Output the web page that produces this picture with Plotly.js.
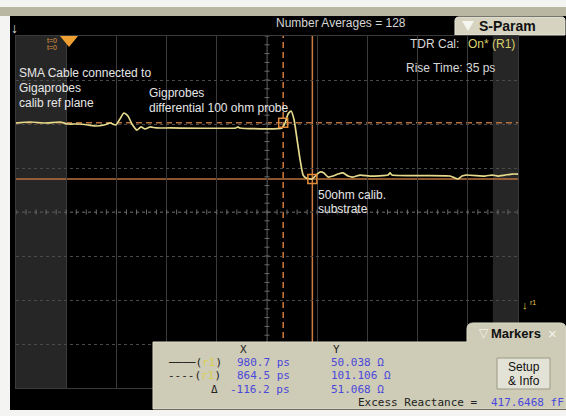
<!DOCTYPE html>
<html><head><meta charset="utf-8">
<script src="https://cdn.plot.ly/plotly-3.0.1.min.js"></script>
<style>html,body{margin:0;padding:0;background:#f4f4f2;overflow:hidden}#chart{width:566px;height:416px}</style>
</head><body><div id="chart"></div>
<script>
// ---- data (TDR trace: time in ps, impedance in ohm) ----
const timePs = [-200,-144,-84,-25,7,47,87,119,151,175,198,214,230,246,262,282,298,314,334,358,414,676,684,692,860,872,884,896,908,920,932,944,956,980,996,1011,1027,1043,1063,1083,1103,1123,1143,1171,1210,1282,1290,1298,1529,1549,1561,1577,1593,1669,1697,1720,1748,1776,1800];
const impedanceOhm = [100.9,101.8,100.9,101.8,100.0,100.0,99.1,98.2,99.1,100.9,99.1,104.5,110.0,107.3,100.0,94.5,97.3,95.5,97.3,96.4,96.4,96.4,97.3,96.4,96.4,100.9,109.1,111.8,103.6,85.5,67.3,53.6,50.9,50.0,53.6,56.4,55.5,51.8,52.7,54.5,55.5,52.7,51.8,53.6,52.7,53.6,55.5,53.6,52.7,50.9,50.0,52.7,53.6,52.7,53.6,52.7,53.6,54.5,54.5];
const markerTimePs = [980.7, 864.5];
const markerImpOhm = [50.038, 101.106];
const markerXLabels = ['980.7 ps', '864.5 ps', '-116.2 ps'];
const markerYLabels = ['50.038 Ω', '101.106 Ω', '51.068 Ω'];
const excessReactance = '417.6468 fF';
const windowPs = [0, 1700];
const xRange = [-200, 1800], xDiv = 200;
const yRange = [-140, 180], yDiv = 40;
const xCenter = 800, yCenter = 20;

// ---- layout helpers (pixel -> paper) ----
const L = 16, T = 36, W = 502, H = 352;
const px = x => (x - L) / W;
const py = y => (T + H - y) / H;
const P = (x, y) => px(x).toFixed(5) + ',' + py(y).toFixed(5);

const SANS = 'Liberation Sans, Arial, sans-serif';
const MONO = 'DejaVu Sans Mono, monospace';
const BLUE = '#4a48dc';
const ORANGE = '#cf7a3e';

const shapes = [];
function rectPx(x0, y0, x1, y1, fill, layer, line) {
  shapes.push({type:'rect', xref:'paper', yref:'paper', x0:px(x0), x1:px(x1), y0:py(y1), y1:py(y0),
    fillcolor:fill, line: line || {width:0}, layer: layer || 'below'});
}
// frame
rectPx(0, 7, 566, 16, '#b9b7a1');
rectPx(10, 16, 566, 410, '#000000');
// shaded bands outside the data window
shapes.push({type:'rect', xref:'x', yref:'paper', x0:xRange[0], x1:windowPs[0], y0:0, y1:1, fillcolor:'#262626', line:{width:0}, layer:'below'});
shapes.push({type:'rect', xref:'x', yref:'paper', x0:windowPs[1], x1:xRange[1], y0:0, y1:1, fillcolor:'#262626', line:{width:0}, layer:'below'});
// S-Param tab
shapes.push({type:'path', xref:'paper', yref:'paper', layer:'below', fillcolor:'#d6d4c1', line:{color:'#e8e7da', width:1},
  path:'M'+P(455,35)+' L'+P(455,21)+' Q'+P(455,17)+' '+P(459,17)+' L'+P(562,17)+' Q'+P(565,17)+' '+P(565,21)+' L'+P(565,35)+' Z'});
shapes.push({type:'path', xref:'paper', yref:'paper', layer:'below', fillcolor:'#f6f6f0', line:{width:0},
  path:'M'+P(462,21)+' L'+P(474,21)+' L'+P(468,31)+' Z'});
// t=0 triangle
shapes.push({type:'path', xref:'paper', yref:'paper', layer:'above', fillcolor:'#f0a030', line:{width:0},
  path:'M'+P(60,36)+' L'+P(78,36)+' L'+P(69,47)+' Z'});
// marker lines
shapes.push({type:'line', xref:'x', yref:'paper', x0:markerTimePs[0], x1:markerTimePs[0], y0:0, y1:1, line:{color:ORANGE, width:1.5}, layer:'between'});
shapes.push({type:'line', xref:'x', yref:'paper', x0:markerTimePs[1], x1:markerTimePs[1], y0:0, y1:1, line:{color:ORANGE, width:1.5, dash:'6px,4px'}, layer:'between'});
shapes.push({type:'line', xref:'paper', yref:'y', x0:0, x1:1, y0:markerImpOhm[0], y1:markerImpOhm[0], line:{color:'#b8703c', width:1.5}, layer:'between'});
shapes.push({type:'line', xref:'paper', yref:'y', x0:0, x1:1, y0:markerImpOhm[1], y1:markerImpOhm[1], line:{color:'#b8703c', width:1.5, dash:'6px,4px'}, layer:'between'});
// center axis minor ticks
for (let v = xRange[0]; v <= xRange[1]; v += xDiv / 5) {
  shapes.push({type:'line', xref:'x', yref:'y', xsizemode:'scaled', ysizemode:'pixel', yanchor:yCenter, x0:v, x1:v, y0:-2.5, y1:2.5, line:{color:'#6a6a6a', width:1}, layer:'between'});
}
for (let v = yRange[0]; v <= yRange[1]; v += yDiv / 5) {
  shapes.push({type:'line', xref:'x', yref:'y', xsizemode:'pixel', xanchor:xCenter, x0:-2.5, x1:2.5, y0:v, y1:v, line:{color:'#6a6a6a', width:1}, layer:'between'});
}
shapes.push({type:'line', xref:'paper', yref:'y', x0:0, x1:1, y0:yCenter, y1:yCenter, line:{color:'#4a4a4a', width:1, dash:'dot'}, layer:'between'});
shapes.push({type:'line', xref:'x', yref:'paper', x0:xCenter, x1:xCenter, y0:0, y1:1, line:{color:'#4a4a4a', width:1}, layer:'between'});
// Markers panel
shapes.push({type:'path', xref:'paper', yref:'paper', layer:'above', fillcolor:'#cecbb6', line:{color:'#dedcca', width:1},
  path:'M'+P(153,409)+' L'+P(153,342)+' L'+P(467,342)+' L'+P(467,329)+' Q'+P(467,323)+' '+P(473,323)+' L'+P(560,323)+' Q'+P(566,323)+' '+P(566,329)+' L'+P(566,409)+' Z'});
rectPx(497, 358, 550, 389, '#e3e2d6', 'above', {color:'#9d9b86', width:1});

const annotations = [];
function txt(x, y, text, size, color, opts) {
  annotations.push(Object.assign({xref:'paper', yref:'paper', x:px(x), y:py(y), text:text, showarrow:false,
    xanchor:'left', yanchor:'middle', borderpad:0, font:{family:SANS, size:size, color:color}}, opts || {}));
}
// header
txt(10, 28, '↓', 14, '#e0e0e0');
txt(341, 23, 'Number Averages = 128', 12, '#d6d6d6', {xanchor:'center'});
txt(478, 26, '<b>S-Param</b>', 14, '#111111');
txt(46, 40, 't=0', 7, '#e09a40');
txt(46, 47, 't=0', 7, '#e09a40');
// right info
txt(460, 44, 'TDR Cal:', 12, '#d8d8d8', {xanchor:'right'});
txt(467, 44, 'On* (R1)', 12, '#d8d06a');
txt(464, 68, 'Rise Time:', 12, '#d8d8d8', {xanchor:'right'});
txt(465, 68, '35 ps', 12, '#d8d8d8');
// in-plot notes
txt(18, 73, 'SMA Cable connected to', 12, '#e6e6e6');
txt(18, 88, 'Gigaprobes', 12, '#e6e6e6');
txt(18, 103, 'calib ref plane', 12, '#e6e6e6');
txt(148, 93, 'Gigprobes', 12, '#e6e6e6');
txt(148, 108, 'differential 100 ohm probe', 12, '#e6e6e6');
txt(317, 195, '50ohm calib.', 12, '#e6e6e6');
txt(317, 209, 'substrate', 12, '#e6e6e6');
txt(521, 305, '↓', 11, '#e8d040');
txt(529, 302, 'r1', 7, '#e8d040');
// Markers panel text
txt(478, 333, '▽', 12, '#f4f4ee');
txt(490, 333, '<b>Markers</b>', 13, '#111111');
txt(547, 333, '×', 15, '#f4f4ee');
txt(239, 349, 'X', 11, '#222222', {font:{family:MONO, size:11, color:'#222'}});
txt(332, 349, 'Y', 11, '#222222', {font:{family:MONO, size:11, color:'#222'}});
const rowY = [362, 375, 389];
const rowKey = ['────(<span style="color:#d8d050">r1</span>)', '----(<span style="color:#d8d050">r1</span>)', 'Δ'];
const rowKeyX = [167, 167, 210];
for (let i = 0; i < 3; i++) {
  txt(rowKeyX[i], rowY[i], rowKey[i], 11, '#222', {font:{family:MONO, size:11, color:'#222'}});
  txt(291, rowY[i], markerXLabels[i], 11, BLUE, {xanchor:'right', font:{family:MONO, size:11, color:BLUE}});
  txt(330, rowY[i], markerYLabels[i], 11, BLUE, {font:{family:MONO, size:11, color:BLUE}});
}
txt(357, 402, 'Excess Reactance =', 11, '#222', {font:{family:MONO, size:11, color:'#222'}});
txt(490, 402, excessReactance, 11, BLUE, {font:{family:MONO, size:11, color:BLUE}});
txt(523.5, 367, 'Setup', 12, '#111', {xanchor:'center'});
txt(523.5, 381, '&amp; Info', 12, '#111', {xanchor:'center'});

const traces = [
  {x: timePs, y: impedanceOhm, type:'scatter', mode:'lines', line:{color:'#e6da8c', width:1.7, shape:'spline', smoothing:0.5}, hoverinfo:'skip'},
  {x: markerTimePs, y: markerImpOhm, type:'scatter', mode:'markers', marker:{symbol:'square-open', size:9, color:'#e08a3a', line:{width:1.5}}, hoverinfo:'skip'}
];

const layout = {
  width:566, height:416, autosize:false, showlegend:false,
  margin:{l:L, r:566-L-W, t:T, b:416-T-H, pad:0},
  paper_bgcolor:'#f4f4f2', plot_bgcolor:'#000000',
  xaxis:{range:xRange, dtick:xDiv, tick0:xRange[0], showticklabels:false, ticks:'', zeroline:false,
    showgrid:true, gridcolor:'#3a3a3a', gridwidth:1, showline:true, linecolor:'#3a3a3a', mirror:true, fixedrange:true},
  yaxis:{range:yRange, dtick:yDiv, tick0:yRange[0], showticklabels:false, ticks:'', zeroline:false,
    showgrid:true, gridcolor:'#4a4a4a', gridwidth:1, griddash:'dot', showline:true, linecolor:'#3a3a3a', mirror:true, fixedrange:true},
  shapes:shapes, annotations:annotations
};
Plotly.newPlot('chart', traces, layout, {displayModeBar:false, staticPlot:true});
</script></body></html>
